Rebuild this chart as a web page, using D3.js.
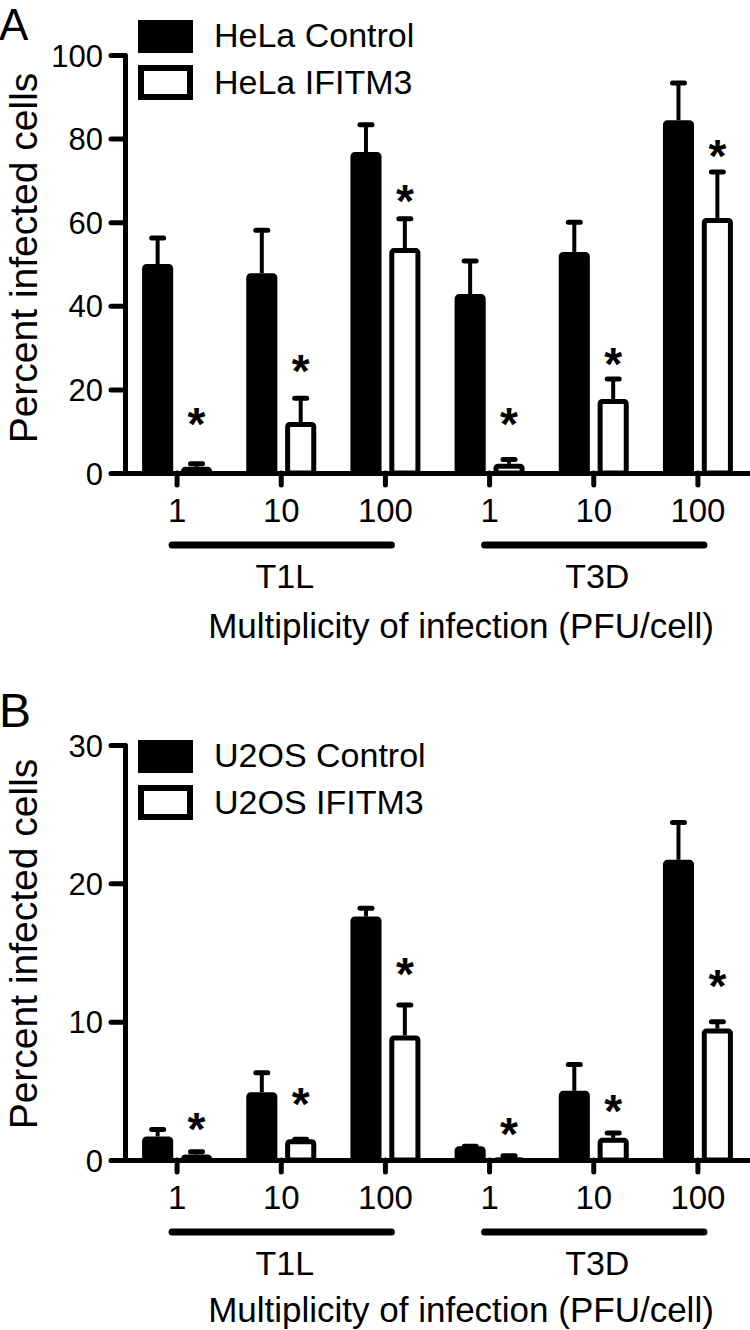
<!DOCTYPE html>
<html>
<head>
<meta charset="utf-8">
<script src="https://cdn.jsdelivr.net/npm/d3@7"></script>
<style>
body { margin: 0; background: #fff; }
svg { display: block; }
text { font-family: "Liberation Sans", Arial, sans-serif; fill: #000; }
</style>
</head>
<body>
<svg id="fig" width="750" height="1330"></svg>
<script>
// categories
const doses = ["1", "10", "100", "1", "10", "100"];
const strains = ["T1L", "T3D"];

// panel A (HeLa)
const yTicksA = [0, 20, 40, 60, 80, 100];
const helaControl = [50, 47.8, 76.8, 42.8, 52.9, 84.4];
const helaControlErr = [6.2, 10.3, 6.5, 7.9, 7.1, 8.9];
const helaIfitm3 = [1.5, 12.2, 53.8, 2.2, 17.7, 61];
const helaIfitm3Err = [0.7, 5.7, 7.0, 1.0, 4.8, 11];
const helaStars = [13.9, 26.6, 67.2, 13.9, 28.2, 78.0];

// panel B (U2OS)
const yTicksB = [0, 10, 20, 30];
const u2osControl = [1.7, 4.9, 17.6, 1.0, 5.0, 21.7];
const u2osControlErr = [0.5, 1.4, 0.6, 0, 1.9, 2.7];
const u2osIfitm3 = [0.4, 1.5, 9.0, 0.2, 1.6, 9.5];
const u2osIfitm3Err = [0.2, 0, 2.2, 0.1, 0.35, 0.5];
const u2osStars = [2.9, 4.7, 14.1, 2.5, 4.2, 13.2];

const svg = d3.select("#fig");

const x = d3.scaleBand().domain(d3.range(doses.length)).range([125, 750]);
const inner = d3.scaleBand().domain([0, 1]).range([-35, 35]).paddingInner(0.2);
const center = i => x(i) + x.bandwidth() / 2;

function drawPanel(p) {
    const g = svg.append("g");
    const y = d3.scaleLinear().domain([0, p.max]).range([p.y0, p.yTop]);

    // panel letter
    g.append("text").attr("x", -1).attr("y", p.letterY)
        .style("font-size", p.letterSize + "px").text(p.letter);

    // bars + error bars
    const series = [
        {vals: p.control, errs: p.controlErr, fill: "#000"},
        {vals: p.ifitm, errs: p.ifitmErr, fill: "#fff"}
    ];
    series.forEach(function (s, si) {
        s.vals.forEach(function (v, i) {
            const x0 = center(i) + inner(si);
            const w = inner.bandwidth();
            const cx = x0 + w / 2;
            const et = y(v + s.errs[i]);
            g.append("line")
                .attr("x1", cx).attr("x2", cx)
                .attr("y1", y(v)).attr("y2", et)
                .attr("stroke", "#000").attr("stroke-width", 4);
            g.append("line")
                .attr("x1", cx - 6).attr("x2", cx + 6)
                .attr("y1", et).attr("y2", et)
                .attr("stroke", "#000").attr("stroke-width", 5)
                .attr("stroke-linecap", "round");
            g.append("rect")
                .attr("x", x0 + 2.5).attr("y", y(v) + 2.5)
                .attr("width", w - 5)
                .attr("height", Math.max(0.5, y(0) - y(v) - 2.5))
                .attr("rx", 2)
                .attr("fill", s.fill).attr("stroke", "#000").attr("stroke-width", 5);
        });
    });

    // asterisks over IFITM3 bars
    p.stars.forEach(function (v, i) {
        const cx = center(i) + inner(1) + inner.bandwidth() / 2;
        g.append("text").attr("x", cx).attr("y", y(v) + 25)
            .attr("text-anchor", "middle")
            .style("font-size", "46px").style("font-weight", "bold")
            .text("*");
    });

    // y axis
    const ya = g.append("g").attr("transform", "translate(125,0)")
        .call(d3.axisLeft(y).tickValues(p.ticks).tickSize(14).tickSizeOuter(0).tickPadding(8));
    ya.selectAll("path, line").attr("stroke", "#000").attr("stroke-width", 5)
        .attr("stroke-linecap", "round");
    ya.selectAll("text").attr("font-family", null).attr("font-size", null)
        .style("font-size", "31px").attr("dy", "0.36em");

    // x axis
    const xa = g.append("g").attr("transform", `translate(0,${p.y0})`)
        .call(d3.axisBottom(x).tickSize(12).tickSizeOuter(0).tickFormat(i => doses[i]));
    xa.selectAll("path, line").attr("stroke", "#000").attr("stroke-width", 5)
        .attr("stroke-linecap", "round");
    xa.selectAll("text").attr("font-size", null).attr("font-family", null)
        .style("font-size", "33px").attr("y", 49).attr("dy", 0);

    // strain group lines
    strains.forEach(function (s, k) {
        const a = center(k * 3) - 5, b = center(k * 3 + 2) + 6;
        g.append("line").attr("x1", a).attr("x2", b)
            .attr("y1", p.y0 + 72).attr("y2", p.y0 + 72)
            .attr("stroke", "#000").attr("stroke-width", 7).attr("stroke-linecap", "round");
        g.append("text").attr("x", (a + b) / 2 + 3).attr("y", p.y0 + 115)
            .attr("text-anchor", "middle").style("font-size", "34px").text(s);
    });

    // axis titles
    g.append("text").attr("x", 461).attr("y", p.y0 + p.titleDy)
        .attr("text-anchor", "middle").style("font-size", "35px")
        .text("Multiplicity of infection (PFU/cell)");
    g.append("text")
        .attr("transform", `translate(37,${p.yTitleC}) rotate(-90)`)
        .attr("text-anchor", "middle").style("font-size", "39px")
        .text("Percent infected cells");

    // legend
    const lg = g.append("g").attr("transform", `translate(138,${p.legendY})`);
    lg.append("rect").attr("width", 55).attr("height", 33).attr("fill", "#000");
    lg.append("rect").attr("x", 3).attr("y", 48).attr("width", 49).attr("height", 29)
        .attr("fill", "#fff").attr("stroke", "#000").attr("stroke-width", 6);
    lg.append("text").attr("x", 76).attr("y", 27).style("font-size", "34px").text(p.names[0]);
    lg.append("text").attr("x", 76).attr("y", 74).style("font-size", "34px").text(p.names[1]);
}

drawPanel({
    letter: "A", letterY: 40, letterSize: 44, y0: 473, yTop: 55, max: 100, ticks: yTicksA,
    control: helaControl, controlErr: helaControlErr,
    ifitm: helaIfitm3, ifitmErr: helaIfitm3Err, stars: helaStars,
    names: ["HeLa Control", "HeLa IFITM3"], legendY: 20, yTitleC: 258, titleDy: 165
});
drawPanel({
    letter: "B", letterY: 727, letterSize: 48, y0: 1160, yTop: 745, max: 30, ticks: yTicksB,
    control: u2osControl, controlErr: u2osControlErr,
    ifitm: u2osIfitm3, ifitmErr: u2osIfitm3Err, stars: u2osStars,
    names: ["U2OS Control", "U2OS IFITM3"], legendY: 740, yTitleC: 944, titleDy: 162
});
</script>
</body>
</html>
